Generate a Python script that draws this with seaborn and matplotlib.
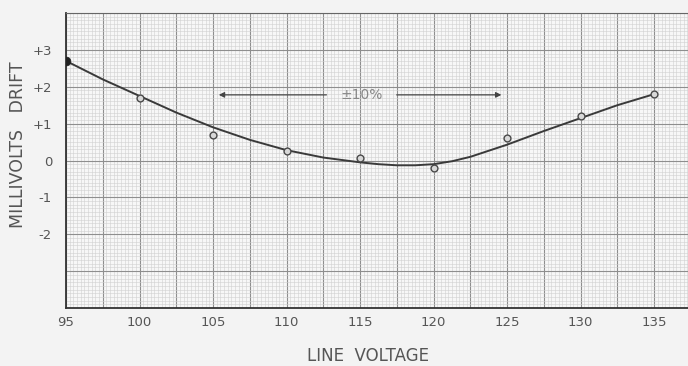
import numpy as np
import matplotlib
matplotlib.use("Agg")
import matplotlib.pyplot as plt
import seaborn as sns
import pandas as pd
from matplotlib.ticker import MultipleLocator

# measured points (line voltage, drift in mV)
voltage = [95, 100, 105, 110, 115, 120, 125, 130, 135]
drift = [2.7, 1.7, 0.7, 0.25, 0.07, -0.2, 0.6, 1.2, 1.8]

# hand-drawn smooth curve
curve_v = [95, 97.5, 100, 102.5, 105, 107.5, 110, 112.5, 115, 116.25, 117.5,
           118.75, 120, 121.25, 122.5, 125, 127.5, 130, 132.5, 135]
curve_d = [2.7, 2.2, 1.75, 1.3, 0.9, 0.56, 0.28, 0.08, -0.05, -0.1, -0.13,
           -0.13, -0.1, -0.02, 0.1, 0.43, 0.8, 1.15, 1.5, 1.8]

x_ticks = [95, 100, 105, 110, 115, 120, 125, 130, 135]
y_ticks = [3, 2, 1, 0, -1, -2]
y_tick_labels = ["+3", "+2", "+1", "0", "-1", "-2"]

sns.set_style("white")
plt.rcParams['font.family'] = ['DejaVu Sans']

fig = plt.figure(figsize=(6.88, 3.66), dpi=100, facecolor="#f3f3f3")
ax = fig.add_axes([66 / 688, 58 / 366, 622 / 688, 295 / 366])
ax.set_facecolor("#f7f7f7")

ax.set_xlim(95, 137.3)
ax.set_ylim(-4, 4)

# graph paper grid
ax.xaxis.set_minor_locator(MultipleLocator(0.25))
ax.yaxis.set_minor_locator(MultipleLocator(0.1))
major_x = np.arange(95, 137.5, 2.5)
major_y = np.arange(-4, 4.5, 1)
ax.set_xticks(major_x)
ax.set_xticklabels([str(int(v)) if v in x_ticks else "" for v in major_x])
ax.set_yticks(major_y)
ax.set_yticklabels([y_tick_labels[y_ticks.index(int(v))] if int(v) in y_ticks else ""
                    for v in major_y])
ax.grid(which="minor", color="#d0d0d0", linewidth=0.4)
ax.grid(which="major", color="#8e8e8e", linewidth=0.8)
ax.set_axisbelow(True)

ax.tick_params(which="both", length=0, colors="#555555")
ax.tick_params(axis="x", pad=6, labelsize=9.5)
ax.tick_params(axis="y", pad=10, labelsize=9.5)

df_curve = pd.DataFrame({"v": curve_v, "d": curve_d})
sns.lineplot(data=df_curve, x="v", y="d", ax=ax, color="#3a3a3a", linewidth=1.4)

df_pts = pd.DataFrame({"v": voltage, "d": drift})
sns.scatterplot(data=df_pts.iloc[1:], x="v", y="d", ax=ax, s=24,
                facecolor="#d8d8d8", edgecolor="#4a4a4a", linewidth=1.0, zorder=5)
sns.scatterplot(data=df_pts.iloc[:1], x="v", y="d", ax=ax, s=40,
                color="#222222", edgecolor="#222222", zorder=6)

# +-10% range marker
ax.text(115.1, 1.78, "±10%", ha="center", va="center", fontsize=10, color="#888888")
arrow = dict(arrowstyle="-|>", color="#444444", lw=0.9, mutation_scale=8)
ax.annotate("", xy=(105.2, 1.78), xytext=(112.9, 1.78), arrowprops=arrow)
ax.annotate("", xy=(124.8, 1.78), xytext=(117.3, 1.78), arrowprops=arrow)

for side in ["left", "bottom"]:
    ax.spines[side].set_color("#333333")
    ax.spines[side].set_linewidth(1.3)
ax.spines["top"].set_color("#666666")
ax.spines["top"].set_linewidth(0.8)
ax.spines["right"].set_visible(False)

ax.set_xlabel("")
ax.set_ylabel("")
fig.text(18 / 688, 1 - 145 / 366, "MILLIVOLTS   DRIFT", rotation=90,
         ha="center", va="center", fontsize=12.5, color="#555555")
fig.text(368 / 688, 1 - 356 / 366, "LINE  VOLTAGE", ha="center", va="center",
         fontsize=12, color="#555555")

fig.savefig("out.png", dpi=100, facecolor=fig.get_facecolor())
